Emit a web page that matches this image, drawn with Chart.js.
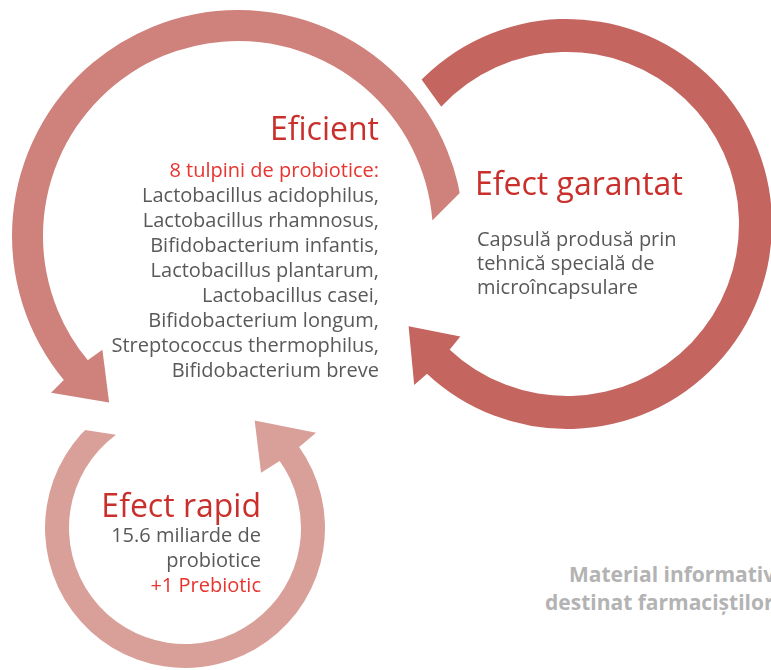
<!DOCTYPE html>
<html>
<head>
<meta charset="utf-8">
<script src="https://cdn.jsdelivr.net/npm/chart.js@4.4.1/dist/chart.umd.min.js"></script>
<style>
  html, body { margin: 0; padding: 0; background: #fff; }
  #wrap { position: relative; width: 771px; height: 670px; overflow: hidden; background: #fff; }
  #wrap canvas { position: absolute; }
  .t { position: absolute; white-space: nowrap; font-family: "Open Sans", sans-serif; }
</style>
</head>
<body>
<div id="wrap"></div>
<script>
// ---------------- DATA ----------------
const ringNames   = ['Eficient', 'Efect garantat', 'Efect rapid'];
const arcSpans    = [215.4, 270.5, 269.5];   // coloured arc, degrees
const gapSpans    = [144.6, 89.5, 90.5];     // transparent remainder, degrees
const arcStarts   = [140, 223, 324];         // canvas angle where each arc begins

const eficientLines = ['Lactobacillus acidophilus,', 'Lactobacillus rhamnosus,', 'Bifidobacterium infantis,',
  'Lactobacillus plantarum,', 'Lactobacillus casei,', 'Bifidobacterium longum,',
  'Streptococcus thermophilus,', 'Bifidobacterium breve'];
const eficientHead = '8 tulpini de probiotice:';
const garantatLines = ['Capsulă produsă prin', 'tehnică specială de', 'microîncapsulare'];
const rapidLines = ['15.6 miliarde de', 'probiotice'];
const rapidExtra = '+1 Prebiotic';
const noteLines = ['Material informativ', 'destinat farmaciștilor'];

// ---------------- LAYOUT / STYLE ----------------
const ringGeom = [
  { cx: 238, cy: 236, R: 226, r: 195, color: '#CF817B', arrowEnd: 'start', ext: 18, len: 45,
    cut: { end: 'end', outer: 349, inner: 355.4 } },
  { cx: 567, cy: 224, R: 205, r: 172, color: '#C4655F', arrowEnd: 'end', ext: 17, len: 45,
    cut: { end: 'start', outer: 224.8, inner: 223 } },
  { cx: 185, cy: 528, R: 140, r: 116, color: '#D9A09A', arrowEnd: 'start', ext: 22, len: 47,
    cut: { end: 'end', outer: 584.4, inner: 593.5 } }
];
const PAD = 32;
const D2R = Math.PI / 180;

const arrowPlugin = {
  id: 'arrowHead',
  afterDatasetsDraw(chart, args, opts) {
    const ctx = chart.ctx;
    const arc = chart.getDatasetMeta(0).data[0];
    const p = arc.getProps(['x', 'y', 'startAngle', 'endAngle', 'innerRadius', 'outerRadius'], true);
    const color = arc.options.backgroundColor;
    const pt = (rad, a) => [p.x + rad * Math.cos(a), p.y + rad * Math.sin(a)];

    // slanted cut on the plain end
    if (opts.cut) {
      const A = pt(p.outerRadius, opts.cut.outer * D2R);
      const B = pt(p.innerRadius, opts.cut.inner * D2R);
      const sideA = opts.cut.end === 'end' ? p.endAngle : p.startAngle;
      const s = opts.cut.end === 'end' ? 1 : -1;
      const tx = -Math.sin(sideA) * s, ty = Math.cos(sideA) * s;
      let dx = A[0] - B[0], dy = A[1] - B[1];
      const L = Math.hypot(dx, dy); dx /= L; dy /= L;
      const A2 = [A[0] + dx * 20, A[1] + dy * 20];
      const B2 = [B[0] - dx * 20, B[1] - dy * 20];
      ctx.save();
      ctx.globalCompositeOperation = 'destination-out';
      ctx.beginPath();
      ctx.moveTo(A2[0], A2[1]);
      ctx.lineTo(B2[0], B2[1]);
      ctx.lineTo(B2[0] + tx * 80, B2[1] + ty * 80);
      ctx.lineTo(A2[0] + tx * 80, A2[1] + ty * 80);
      ctx.closePath();
      ctx.fillStyle = '#000';
      ctx.fill();
      ctx.restore();
    }

    // arrow head
    const atStart = opts.end === 'start';
    const base = atStart ? p.startAngle : p.endAngle;
    const dir = atStart ? -1 : 1;
    const mid = (p.innerRadius + p.outerRadius) / 2;
    const tipA = base + dir * opts.len / mid;
    const back = -dir * 1.5 / mid;
    const pts = [
      pt(p.innerRadius, base + back),
      pt(p.innerRadius - opts.ext, base),
      pt(mid, tipA),
      pt(p.outerRadius + opts.ext, base),
      pt(p.outerRadius, base + back)
    ];
    ctx.save();
    ctx.beginPath();
    pts.forEach((q, i) => i ? ctx.lineTo(q[0], q[1]) : ctx.moveTo(q[0], q[1]));
    ctx.closePath();
    ctx.fillStyle = color;
    ctx.fill();
    ctx.restore();
  }
};

const wrap = document.getElementById('wrap');
ringNames.forEach((name, i) => {
  const g = ringGeom[i];
  const S = 2 * (g.R + PAD);
  const cv = document.createElement('canvas');
  cv.width = S; cv.height = S;
  cv.style.width = S + 'px'; cv.style.height = S + 'px';
  cv.style.left = (g.cx - g.R - PAD) + 'px';
  cv.style.top = (g.cy - g.R - PAD) + 'px';
  wrap.appendChild(cv);
  new Chart(cv, {
    type: 'doughnut',
    data: {
      labels: [name, ''],
      datasets: [{
        data: [arcSpans[i], gapSpans[i]],
        backgroundColor: [g.color, 'rgba(0,0,0,0)'],
        borderWidth: 0,
        hoverOffset: 0
      }]
    },
    options: {
      responsive: false,
      animation: false,
      devicePixelRatio: 1,
      rotation: arcStarts[i] + 90,
      circumference: 360,
      radius: '100%',
      cutout: g.r,
      layout: { padding: PAD },
      events: [],
      plugins: {
        legend: { display: false },
        tooltip: { enabled: false },
        arrowHead: { end: g.arrowEnd, ext: g.ext, len: g.len, cut: g.cut }
      }
    },
    plugins: [arrowPlugin]
  });
});

// ---------------- TEXT ----------------
const ASC = 0.888; // baseline offset factor for line-height = font-size (Open Sans)
function addText(str, x, baseline, size, color, align, weight) {
  const d = document.createElement('div');
  d.className = 't';
  d.textContent = str;
  d.style.fontSize = size + 'px';
  d.style.lineHeight = size + 'px';
  d.style.color = color;
  d.style.fontWeight = weight || 400;
  d.style.top = (baseline - ASC * size) + 'px';
  if (align === 'right') { d.style.right = (771 - x) + 'px'; d.style.textAlign = 'right'; }
  else { d.style.left = x + 'px'; }
  wrap.appendChild(d);
}
const RED = '#C9302C', RED2 = '#E8342F', GRAY = '#58595B', LIGHT = '#B3B3B3';

addText(ringNames[0], 379, 140, 32, RED, 'right');
addText(eficientHead, 379, 178, 20, RED2, 'right');
eficientLines.forEach((s, k) => addText(s, 379, 203 + 25 * k, 20, GRAY, 'right'));

addText(ringNames[1], 475, 195, 32, RED, 'left');
garantatLines.forEach((s, k) => addText(s, 477, 247 + 24 * k, 20, GRAY, 'left'));

addText(ringNames[2], 261, 517, 32, RED, 'right');
rapidLines.forEach((s, k) => addText(s, 261, 543 + 25 * k, 20, GRAY, 'right'));
addText(rapidExtra, 261, 593, 20, RED2, 'right');

addText(noteLines[0], 569, 583, 21, LIGHT, 'left', 700);
addText(noteLines[1], 545, 611, 21, LIGHT, 'left', 700);
</script>
</body>
</html>
